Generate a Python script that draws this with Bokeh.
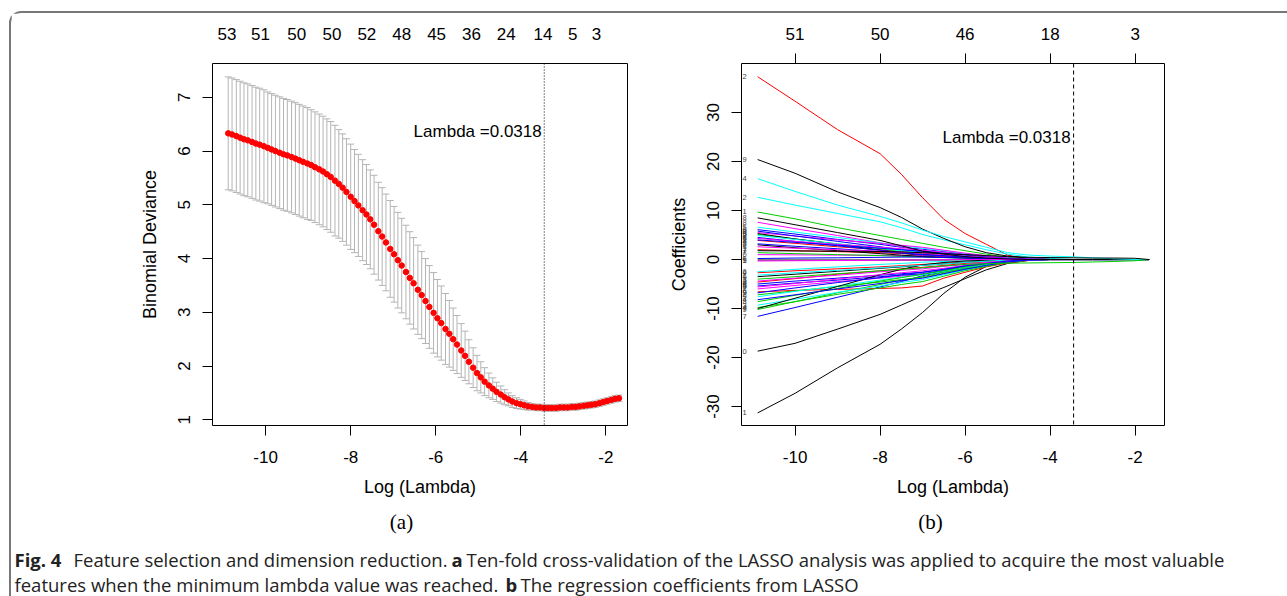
from bokeh.plotting import figure
from bokeh.models import Range1d, LinearAxis, FixedTicker, Span
from bokeh.layouts import column, row
from bokeh.embed import file_html
from bokeh.resources import INLINE
from bokeh.core.properties import value

FONT = "Liberation Sans"

# ---------------- data: panel (a) cross-validation ----------------
log_lambda = [-10.88, -10.79, -10.69, -10.60, -10.51, -10.42, -10.32, -10.23, -10.14, -10.04,
              -9.95, -9.86, -9.77, -9.67, -9.58, -9.49, -9.39, -9.30, -9.21, -9.12,
              -9.02, -8.93, -8.84, -8.74, -8.65, -8.56, -8.47, -8.37, -8.28, -8.19,
              -8.10, -8.00, -7.91, -7.82, -7.72, -7.63, -7.54, -7.45, -7.35, -7.26,
              -7.17, -7.07, -6.98, -6.89, -6.80, -6.70, -6.61, -6.52, -6.42, -6.33,
              -6.24, -6.15, -6.05, -5.96, -5.87, -5.77, -5.68, -5.59, -5.50, -5.40,
              -5.31, -5.22, -5.12, -5.03, -4.94, -4.85, -4.75, -4.66, -4.57, -4.47,
              -4.38, -4.29, -4.20, -4.10, -4.01, -3.92, -3.83, -3.73, -3.64, -3.55,
              -3.45, -3.36, -3.27, -3.17, -3.08, -2.99, -2.90, -2.80, -2.71, -2.62,
              -2.52, -2.43, -2.34, -2.25, -2.15, -2.06, -1.97, -1.87, -1.78, -1.69]
cv_mean = [6.33, 6.31, 6.28, 6.25, 6.22, 6.20, 6.17, 6.14, 6.12, 6.09,
           6.06, 6.03, 6.00, 5.97, 5.94, 5.92, 5.89, 5.86, 5.83, 5.80,
           5.77, 5.74, 5.70, 5.66, 5.62, 5.57, 5.52, 5.45, 5.39, 5.32,
           5.24, 5.15, 5.07, 4.99, 4.90, 4.82, 4.73, 4.63, 4.51, 4.41,
           4.30, 4.18, 4.08, 3.97, 3.87, 3.75, 3.64, 3.54, 3.42, 3.32,
           3.21, 3.10, 2.99, 2.89, 2.80, 2.69, 2.60, 2.50, 2.40, 2.29,
           2.19, 2.08, 1.97, 1.87, 1.79, 1.71, 1.64, 1.58, 1.52, 1.47,
           1.42, 1.38, 1.34, 1.31, 1.29, 1.27, 1.25, 1.24, 1.23, 1.23,
           1.22, 1.22, 1.22, 1.22, 1.23, 1.23, 1.23, 1.24, 1.24, 1.25,
           1.26, 1.27, 1.28, 1.29, 1.31, 1.33, 1.35, 1.37, 1.39, 1.40]
cv_se = [1.05, 1.05, 1.05, 1.05, 1.05, 1.05, 1.05, 1.05, 1.05, 1.05,
         1.04, 1.04, 1.04, 1.04, 1.04, 1.04, 1.04, 1.04, 1.04, 1.04,
         1.04, 1.03, 1.03, 1.03, 1.03, 1.03, 1.03, 1.03, 1.01, 1.00,
         0.99, 0.98, 0.96, 0.95, 0.94, 0.93, 0.92, 0.92, 0.91, 0.91,
         0.90, 0.90, 0.89, 0.89, 0.88, 0.87, 0.86, 0.85, 0.83, 0.81,
         0.79, 0.77, 0.75, 0.72, 0.69, 0.66, 0.62, 0.58, 0.54, 0.50,
         0.46, 0.41, 0.37, 0.33, 0.29, 0.26, 0.23, 0.20, 0.18, 0.16,
         0.14, 0.12, 0.11, 0.10, 0.09, 0.08, 0.07, 0.06, 0.06, 0.06,
         0.06, 0.06, 0.06, 0.06, 0.06, 0.06, 0.06, 0.06, 0.06, 0.06,
         0.06, 0.06, 0.06, 0.06, 0.06, 0.06, 0.06, 0.06, 0.06, 0.06]
lambda_min_log = -3.448
lambda_text = "Lambda =0.0318"
cv_top_pos = [-10.91, -10.12, -9.27, -8.44, -7.62, -6.80, -5.98, -5.16, -4.34, -3.48, -2.78, -2.22]
cv_top_labels = ["53", "51", "50", "50", "52", "48", "45", "36", "24", "14", "5", "3"]
cv_y_ticks = [1, 2, 3, 4, 5, 6, 7]
x_ticks = [-10, -8, -6, -4, -2]

# ---------------- data: panel (b) coefficient paths ----------------
coef_knots = [-10.88, -10, -9, -8, -7.5, -7, -6.5, -6, -5.5, -5, -4.5, -4, -3.45, -3, -2.5, -2, -1.67]
coef_values = [
    [-31.3, -27.3, -22.1, -17.3, -14.2, -10.8, -6.9, -3.6, -1.4, -0.4, -0.05],
    [37.3, 32.3, 26.5, 21.6, 17.4, 12.6, 8.2, 5.3, 3.1, 0.9, 0.1],
    [9.7, 8.3, 6.5, 4.9, 4.1, 3.3, 2.5, 1.8, 1.1, 0.45, 0.1],
    [6.1, 5.2, 4.1, 3.1, 2.5, 2.1, 1.6, 1.1, 0.7, 0.3, 0.1],
    [12.7, 11.1, 9.4, 7.7, 6.5, 5.1, 4.0, 3.0, 2.0, 1.1, 0.5, 0.2, 0.02],
    [7.6, 6.3, 4.9, 3.4, 2.6, 1.8, 1.2, 0.7, 0.35, 0.1],
    [20.4, 17.6, 13.8, 10.6, 8.6, 6.2, 4.3, 2.6, 1.4, 0.7, 0.3, 0.05],
    [3.9, 3.3, 2.6, 2.0, 1.6, 1.3, 1.0, 0.7, 0.4, 0.2, 0.05],
    [5.1, 4.2, 3.2, 2.2, 1.6, 1.2, 0.9, 0.6, 0.4, 0.15, 0.05],
    [-11.6, -9.8, -7.7, -5.6, -4.5, -3.3, -2.5, -1.7, -1.0, -0.4, -0.1],
    [6.6, 5.6, 4.5, 3.4, 2.8, 2.3, 1.8, 1.2, 0.7, 0.3, 0.1],
    [5.5, 4.8, 4.0, 3.3, 2.9, 2.5, 1.9, 1.3, 0.8, 0.3, 0.1],
    [-18.7, -17.1, -14.2, -11.2, -9.3, -7.4, -5.7, -3.9, -2.1, -0.8, -0.15],
    [-6.6, -6.3, -6.1, -5.9, -5.8, -5.4, -3.8, -2.6, -1.5, -0.7, -0.2],
    [-10.2, -8.6, -6.8, -5.1, -4.2, -3.5, -2.6, -1.8, -1.1, -0.45, -0.1],
    [5.8, 4.8, 3.7, 2.6, 2.0, 1.5, 1.2, 0.8, 0.5, 0.2, 0.05],
    [-9.3, -8.1, -6.7, -5.4, -4.7, -4.1, -3.1, -2.1, -1.3, -0.5, -0.1],
    [-6.0, -5.3, -4.5, -3.8, -3.4, -3.0, -2.3, -1.5, -0.9, -0.4, -0.1],
    [5.3, 4.2, 3.1, 1.9, 1.3, 0.8, 0.6, 0.4, 0.25, 0.1],
    [2.0, 1.8, 1.6, 1.4, 1.2, 1.1, 0.8, 0.6, 0.35, 0.15, 0.05],
    [-9.8, -8.6, -7.1, -5.8, -5.1, -4.5, -3.4, -2.3, -1.4, -0.55, -0.15],
    [4.5, 3.7, 2.8, 1.9, 1.4, 1.0, 0.8, 0.55, 0.35, 0.15, 0.05],
    [4.9, 4.1, 3.2, 2.3, 1.8, 1.4, 1.1, 0.8, 0.45, 0.2, 0.05],
    [4.3, 3.7, 3.1, 2.5, 2.2, 1.9, 1.5, 1.0, 0.6, 0.25, 0.1],
    [-0.1, -0.1, -0.1, -0.1, -0.1, -0.1, -0.1, -0.05],
    [-2.7, -2.3, -1.9, -1.5, -1.25, -1.0, -0.75, -0.5, -0.3, -0.1],
    [-7.2, -6.4, -5.5, -4.6, -4.1, -3.7, -2.8, -1.9, -1.1, -0.45, -0.1],
    [-5.0, -4.4, -3.8, -3.2, -2.9, -2.6, -2.0, -1.35, -0.8, -0.3, -0.1],
    [-2.5, -2.0, -1.5, -1.0, -0.8, -0.55, -0.4, -0.3, -0.2, -0.1],
    [1.0, 0.95, 0.9, 0.85, 0.8, 0.75, 0.55, 0.4, 0.25, 0.1],
    [-3.5, -3.0, -2.4, -1.8, -1.5, -1.2, -0.9, -0.6, -0.4, -0.15],
    [-4.6, -3.9, -3.0, -2.3, -1.9, -1.6, -1.2, -0.8, -0.5, -0.2],
    [1.4, 1.2, 1.0, 0.8, 0.65, 0.55, 0.4, 0.3, 0.2, 0.1],
    [-5.4, -4.8, -4.2, -3.5, -3.2, -2.9, -2.2, -1.5, -0.9, -0.35, -0.1],
    [-7.6, -6.5, -5.4, -4.2, -3.6, -3.1, -2.4, -1.6, -1.0, -0.4, -0.1],
    [-4.4, -3.8, -3.2, -2.5, -2.2, -1.9, -1.4, -1.0, -0.6, -0.25, -0.05],
    [-10.0, -7.9, -5.5, -3.1, -2.0, -1.1, -0.6, -0.3, -0.15, -0.05],
    [-8.6, -7.3, -5.9, -4.4, -3.7, -3.0, -2.3, -1.5, -0.9, -0.35, -0.05],
    [4.0, 3.5, 2.9, 2.3, 2.0, 1.7, 1.3, 0.9, 0.5, 0.2, 0.05],
    [-3.2, -2.7, -2.2, -1.7, -1.4, -1.2, -0.9, -0.6, -0.35, -0.1],
    [-5.6, -4.9, -4.0, -3.1, -2.7, -2.3, -1.8, -1.2, -0.7, -0.3, -0.05],
    [3.0, 2.4, 1.8, 1.2, 0.9, 0.6, 0.45, 0.3, 0.15, 0.05],
    [-8.2, -7.2, -6.0, -4.9, -4.3, -3.8, -2.9, -2.0, -1.2, -0.5, -0.1],
    [-6.8, -5.8, -4.7, -3.7, -3.1, -2.6, -2.0, -1.3, -0.8, -0.3, -0.05],
    [3.2, 2.7, 2.2, 1.6, 1.3, 1.0, 0.75, 0.5, 0.3, 0.1],
    [2.6, 2.3, 2.0, 1.7, 1.5, 1.3, 1.0, 0.7, 0.4, 0.15],
    [0.2, 0.3, 0.35, 0.45, 0.5, 0.5, 0.4, 0.3, 0.2, 0.1],
    [-0.3, -0.25, -0.2, -0.15, -0.1, -0.1, -0.05],
    [8.5, 7.1, 5.5, 3.9, 2.8, 1.7, 1.1, 0.6, 0.3, 0.1],
    [16.5, 13.9, 11.1, 8.8, 7.5, 6.0, 4.7, 3.6, 2.5, 1.4, 0.9, 0.7, 0.55, 0.35, 0.15, 0.0],
    [-4.0, -3.5, -2.9, -2.3, -2.0, -1.7, -1.3, -1.0, -0.85, -0.75, -0.7, -0.65, -0.6, -0.5, -0.4, -0.25, 0.0],
    [1.8, 1.75, 1.7, 1.65, 1.55, 1.4, 1.2, 1.0, 0.8, 0.6, 0.45, 0.4, 0.35, 0.3, 0.3, 0.25, 0.0],
]
coef_colors = ["black", "red", "#00CD00", "blue", "cyan", "magenta",
               "black", "red", "#00CD00", "blue", "cyan", "magenta",
               "black", "red", "#00CD00", "blue", "cyan", "magenta",
               "black", "red", "#00CD00", "blue", "cyan", "magenta",
               "black", "red", "#00CD00", "blue", "cyan", "magenta",
               "black", "red", "#00CD00", "blue", "cyan", "magenta",
               "black", "#00CD00", "blue", "cyan", "magenta", "black",
               "blue", "blue", "blue", "magenta", "blue", "magenta",
               "black", "cyan", "#00CD00", "black"]
coef_labels = ["1", "2", "1", "6", "2", "8", "9", "3", "5", "7", "5", "4", "0", "6", "9", "0",
               "3", "2", "3", "7", "4", "1", "8", "6", "5", "4", "2", "3", "6", "0", "6", "8",
               "7", "5", "9", "3", "7", "8", "2", "1", "5", "2", "4", "9", "8", "7", "6", "1",
               "8", "4", "3", "7"]
coef_y_ticks = [-30, -20, -10, 0, 10, 20, 30]
coef_top_labels = ["51", "50", "46", "18", "3"]
lambda_text_b_y = 24.9
lambda_text_a_y = 6.36

caption_line1 = [("Fig. 4", "bold", 14), ("Feature selection and dimension reduction.", "normal", 73),
                 ("a", "bold", 451),
                 ("Ten-fold cross-validation of the LASSO analysis was applied to acquire the most valuable", "normal", 466)]
caption_line2 = [("features when the minimum lambda value was reached.", "normal", 14), ("b", "bold", 505),
                 ("The regression coefficients from LASSO", "normal", 520)]


def style_axis(ax, ticks, labels, tick_out=10, standoff=12, vertical=False):
    ax.ticker = FixedTicker(ticks=ticks)
    ax.major_label_overrides = {t: l for t, l in zip(ticks, labels)}
    ax.minor_tick_line_color = None
    ax.major_tick_in = 0
    ax.major_tick_out = tick_out
    ax.major_tick_line_color = "black" if tick_out > 0 else None
    ax.axis_line_color = None
    ax.major_label_standoff = standoff
    ax.major_label_text_font = FONT
    ax.major_label_text_font_size = "17px"
    ax.major_label_text_color = "black"
    ax.axis_label_text_font = FONT
    ax.axis_label_text_font_size = "18px"
    ax.axis_label_text_font_style = "normal"
    ax.axis_label_text_color = "black"
    if vertical:
        ax.major_label_orientation = "vertical"


def base_fig(width, xr, yr, left, right, xlabel, ylabel):
    p = figure(width=width, height=492, x_range=Range1d(*xr), y_range=Range1d(*yr),
               output_backend="svg", toolbar_location=None,
               min_border_left=left, min_border_right=right, min_border_top=50, min_border_bottom=80,
               x_axis_label=xlabel, y_axis_label=ylabel)
    p.xgrid.visible = False
    p.ygrid.visible = False
    p.outline_line_color = "black"
    p.outline_line_width = 1
    p.outline_line_alpha = 1
    p.background_fill_color = "white"
    p.border_fill_color = "white"
    return p


# ---------------- panel (a) ----------------
pa = base_fig(649, (-11.25, -1.49), (0.894, 7.63), 201, 33, "Log (Lambda)", "Binomial Deviance")
style_axis(pa.xaxis[0], x_ticks, [str(t) for t in x_ticks], 10, 15)
pa.xaxis[0].axis_label_standoff = 11
style_axis(pa.yaxis[0], cv_y_ticks, [str(t) for t in cv_y_ticks], 10, 12, vertical=True)
pa.yaxis[0].axis_label_standoff = 16
top_a = LinearAxis()
style_axis(top_a, cv_top_pos, cv_top_labels, 0, 24)
pa.add_layout(top_a, "above")

lo = [m - s for m, s in zip(cv_mean, cv_se)]
hi = [m + s for m, s in zip(cv_mean, cv_se)]
cap = 0.082
pa.segment(x0=log_lambda, y0=lo, x1=log_lambda, y1=hi, line_color="#b4b4b4", line_width=1)
pa.segment(x0=[x - cap for x in log_lambda], y0=hi, x1=[x + cap for x in log_lambda], y1=hi,
           line_color="#b4b4b4", line_width=1)
pa.segment(x0=[x - cap for x in log_lambda], y0=lo, x1=[x + cap for x in log_lambda], y1=lo,
           line_color="#b4b4b4", line_width=1)
pa.scatter(x=log_lambda, y=cv_mean, size=5.5, fill_color="red", line_color="red")
pa.add_layout(Span(location=lambda_min_log, dimension="height", line_color="black",
                   line_width=1, line_dash="1 2"))
pa.text(x=[lambda_min_log - 0.06], y=[lambda_text_a_y], text=[lambda_text], text_align="right",
        text_baseline="middle", text_font=value(FONT), text_font_size="17px", text_color="black")

# ---------------- panel (b) ----------------
pb = base_fig(627, (-11.26, -1.31), (-33.87, 40.0), 81, 123, "Log (Lambda)", "Coefficients")
style_axis(pb.xaxis[0], x_ticks, [str(t) for t in x_ticks], 10, 15)
pb.xaxis[0].axis_label_standoff = 11
style_axis(pb.yaxis[0], coef_y_ticks, [str(t) for t in coef_y_ticks], 10, 12, vertical=True)
pb.yaxis[0].axis_label_standoff = 16
top_b = LinearAxis()
style_axis(top_b, x_ticks, coef_top_labels, 10, 14)
pb.add_layout(top_b, "above")

xs = []
ys = []
for vals in coef_values:
    full = list(vals) + [0.0] * (len(coef_knots) - len(vals))
    xs.append(list(coef_knots))
    ys.append(full)
pb.multi_line(xs=xs, ys=ys, line_color=coef_colors, line_width=1)
starts = [v[0] for v in coef_values]
pb.text(x=[-11.14] * len(starts), y=starts, text=coef_labels, text_align="right",
        text_baseline="middle", text_font=value(FONT), text_font_size="7.5px", text_color="#444444")
pb.add_layout(Span(location=lambda_min_log, dimension="height", line_color="black",
                   line_width=1, line_dash="4 3"))
pb.text(x=[lambda_min_log - 0.07], y=[lambda_text_b_y], text=[lambda_text], text_align="right",
        text_baseline="middle", text_font=value(FONT), text_font_size="17px", text_color="black")

# ---------------- caption ----------------
pc = figure(width=1276, height=91, x_range=Range1d(11, 1287), y_range=Range1d(596, 505),
            output_backend="svg", toolbar_location=None, min_border=0,
            x_axis_location=None, y_axis_location=None)
pc.xgrid.visible = False
pc.ygrid.visible = False
pc.outline_line_color = None
pc.text(x=[401, 930], y=[521, 521], text=["(a)", "(b)"], text_align="center", text_baseline="middle",
        text_font=value("Liberation Serif"), text_font_size="21px", text_color="black")
for line, yb in ((caption_line1, 559), (caption_line2, 584)):
    for txt, style, x0 in line:
        pc.text(x=[x0], y=[yb], text=[txt], text_align="left", text_baseline="alphabetic",
                text_font=value("Open Sans"), text_font_size="18.5px", text_font_style=style,
                text_color="#222222")

layout = column(row(pa, pb), pc, margin=(11, 0, 0, 9),
                styles={"border-top": "2px solid #777777", "border-left": "2px solid #777777",
                        "border-top-left-radius": "12px"})

open("out.html", "w").write(file_html(layout, INLINE))
